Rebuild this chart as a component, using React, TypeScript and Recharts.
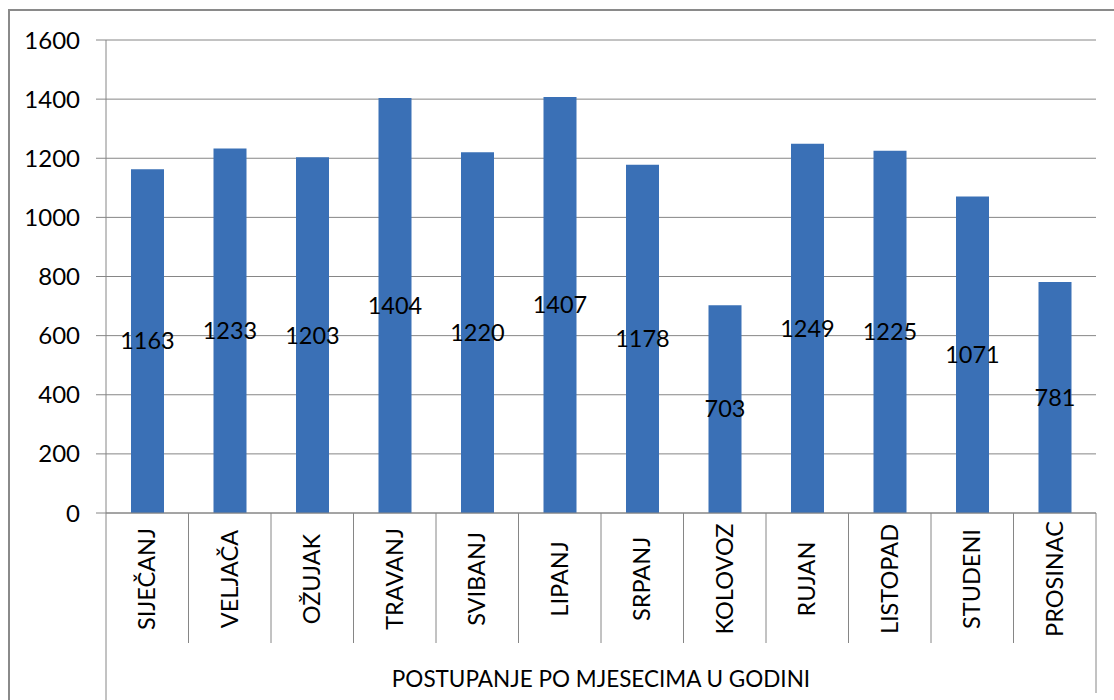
import React from 'react';
import { BarChart, Bar, XAxis, YAxis, CartesianGrid, LabelList } from 'recharts';

const MONTHS = [
  'SIJEČANJ',
  'VELJAČA',
  'OŽUJAK',
  'TRAVANJ',
  'SVIBANJ',
  'LIPANJ',
  'SRPANJ',
  'KOLOVOZ',
  'RUJAN',
  'LISTOPAD',
  'STUDENI',
  'PROSINAC',
];

const COUNTS = [1163, 1233, 1203, 1404, 1220, 1407, 1178, 703, 1249, 1225, 1071, 781];

const Y_TICKS = [0, 200, 400, 600, 800, 1000, 1200, 1400, 1600];

const AXIS_TITLE = 'POSTUPANJE PO MJESECIMA U GODINI';

const data = MONTHS.map((month, i) => ({ month, count: COUNTS[i] }));

const BAR_COLOR = '#3a70b6';
const LINE_COLOR = '#868686';
const FONT = 'Lato, "Open Sans", sans-serif';

// plot bottom (value 0) in chart pixels
const AXIS_Y = 513;

/**
 * Category tick: rotated label plus the table-style separators under the axis
 */
function MonthTick(props: any) {
  const { x, payload, index } = props;
  const half = payload?.offset ?? 41.25;
  const left = x - half;
  const right = x + half;
  const last = index === MONTHS.length - 1;
  return (
    <g>
      {index === 0 && (
        <line x1={left} y1={AXIS_Y} x2={left} y2={700} stroke={LINE_COLOR} strokeWidth={1} />
      )}
      <line
        x1={right}
        y1={AXIS_Y}
        x2={right}
        y2={last ? 693 : 643}
        stroke={LINE_COLOR}
        strokeWidth={1}
      />
      <text
        transform={`translate(${x + 8},${579}) rotate(-90)`}
        textAnchor="middle"
        fontSize={23.5}
        fill="#000"
        fontFamily={FONT}
      >
        {payload.value}
      </text>
    </g>
  );
}

export default function App() {
  return (
    <div
      style={{
        position: 'absolute',
        left: 0,
        top: 0,
        width: 1114,
        height: 700,
        overflow: 'hidden',
        background: '#fff',
        fontFamily: FONT,
      }}
    >
      <div
        style={{
          position: 'absolute',
          left: 8,
          top: 9,
          width: 1200,
          height: 800,
          borderLeft: '2px solid #8a8a8a',
          borderTop: '2px solid #8a8a8a',
        }}
      />
      <div style={{ position: 'absolute', left: 0, top: 0 }}>
        <BarChart
          width={1114}
          height={700}
          data={data}
          margin={{ top: 40, right: 18, left: 0, bottom: 0 }}
          barSize={33}
        >
          <CartesianGrid horizontal vertical={false} stroke={LINE_COLOR} strokeWidth={1} />
          <XAxis
            dataKey="month"
            interval={0}
            height={187}
            tickLine={false}
            axisLine={{ stroke: LINE_COLOR }}
            tick={<MonthTick />}
            label={{
              value: AXIS_TITLE,
              position: 'insideBottom',
              offset: 13,
              fill: '#000',
              fontSize: 22.5,
              fontFamily: FONT,
            }}
          />
          <YAxis
            width={106}
            domain={[0, 1600]}
            ticks={Y_TICKS}
            interval={0}
            tickSize={10}
            tickMargin={16}
            tickLine={{ stroke: LINE_COLOR }}
            axisLine={{ stroke: LINE_COLOR }}
            tick={{ fill: '#000', fontSize: 24, fontFamily: FONT }}
          />
          <Bar dataKey="count" fill={BAR_COLOR} isAnimationActive={false}>
            <LabelList
              dataKey="count"
              position="center"
              fill="#000"
              fontSize={23.5}
              fontFamily={FONT}
            />
          </Bar>
        </BarChart>
      </div>
    </div>
  );
}
